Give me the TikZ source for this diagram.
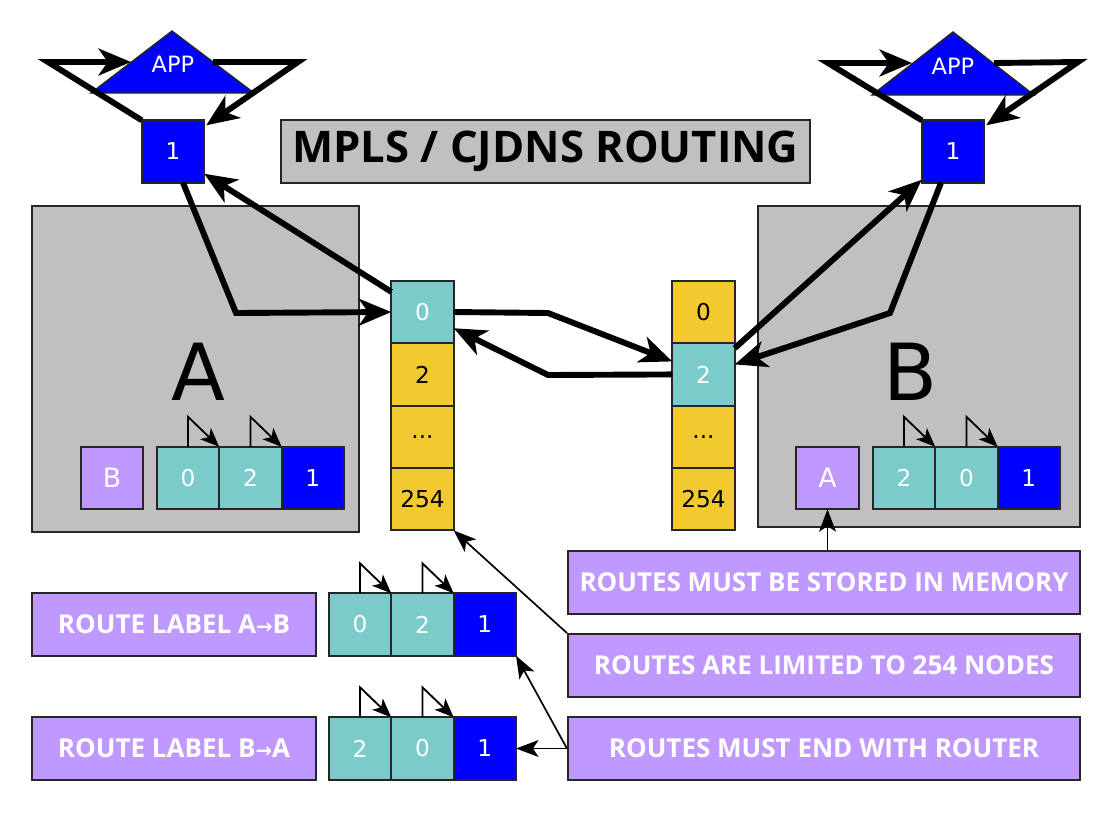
\documentclass[tikz,border=0pt]{standalone}
\usepackage{fontspec}
\setmainfont{DejaVu Sans}
\newfontfamily\labelfont{Open Sans}
\usetikzlibrary{arrows.meta,positioning,calc}

\definecolor{panelgray}{HTML}{C0C0C0}
\definecolor{hopteal}{HTML}{7ACBC9}
\definecolor{slotyellow}{HTML}{F2CA30}
\definecolor{routerblue}{HTML}{0000FF}
\definecolor{notepurple}{HTML}{BF99FF}

\tikzset{
    panel/.style={
        rectangle,                % caja gris de fondo
        draw=black!85,
        fill=panelgray,
        line width=1.4pt,
        inner sep=0pt
    },
    hopcell/.style={
        rectangle,                % casilla de una etiqueta de ruta
        draw=black!85,
        fill=#1,
        line width=1.4pt,
        minimum width=1.56cm,
        minimum height=1.56cm,
        inner sep=0pt,
        outer sep=0pt,
        text=white,
        font=\fontsize{16.5}{18}\selectfont
    },
    hopcell/.default=hopteal,
    slotcell/.style={
        hopcell=slotyellow,       % casilla de la tabla de interfaces
        text=black
    },
    notebox/.style={
        rectangle,                % caja de nota morada
        draw=black!85,
        fill=notepurple,
        line width=1.4pt,
        minimum width=#1,
        minimum height=1.575cm,
        text=white,
        font=\labelfont\bfseries\fontsize{18.5}{20}\selectfont
    },
    bigarrow/.style={
        line width=4.2pt,         % flechas gruesas del recorrido
        -{Stealth[length=23pt,width=19pt,inset=6.5pt]}
    },
    thinarrow/.style={
        line width=1.2pt,         % flechas finas de las notas
        -{Stealth[length=16pt,width=12pt,inset=4pt]}
    },
    hoparrow/.style={
        line width=1.3pt,         % flechita de salto entre casillas
        -{Stealth[length=13.5pt,width=11pt,inset=3.5pt]}
    }
}

\begin{document}
\begin{tikzpicture}[x=0.025cm, y=-0.025cm]
    \useasboundingbox (0,0) rectangle (1112,812);

    % cajas de los nodos A y B
    \node[panel, minimum width=8.175cm, minimum height=8.15cm] (boxA) at (195.5,369) {};
    \node[panel, minimum width=8.05cm, minimum height=8.025cm] (boxB) at (919,366.5) {};
    \node[font=\fontsize{56}{64}\selectfont, inner sep=0pt] (bigA) at (198,372) {A};
    \node[font=\fontsize{56}{64}\selectfont, inner sep=0pt] (bigB) at (911,372) {B};

    % titulo
    \node[panel, minimum width=13.225cm, minimum height=1.575cm,
          font=\labelfont\bfseries\fontsize{31}{34}\selectfont] (title) at (545.5,151.5) {MPLS / CJDNS ROUTING};

    % aplicaciones y routers
    \draw[fill=routerblue, draw=black!85, line width=1pt] (172,31) -- (254,93) -- (91,93) -- cycle;
    \node[text=white, font=\fontsize{16}{18}\selectfont] (appA) at (173,64) {APP};
    \draw[fill=routerblue, draw=black!85, line width=1pt] (953,32) -- (1034,95) -- (872,95) -- cycle;
    \node[text=white, font=\fontsize{16}{18}\selectfont] (appB) at (953,66) {APP};
    \node[hopcell=routerblue] (rA) at (173,151.5) {1};
    \node[hopcell=routerblue] (rB) at (953,151.5) {1};

    \coordinate (appAw) at (48,62);
    \coordinate (appAin) at (131,62);
    \coordinate (appAout) at (213,62);
    \coordinate (appAe) at (298,62);
    \coordinate (appBw) at (828,63);
    \coordinate (appBin) at (912,63);
    \coordinate (appBout) at (994,63);
    \coordinate (appBe) at (1078,62);

    % tablas de interfaces
    \node[hopcell] (c0L) at (422.5,312) {0};
    \node[slotcell, below=0pt of c0L] (c2L) {2};
    \node[slotcell, below=0pt of c2L] (cdL) {...};
    \node[slotcell, below=0pt of cdL] (c254L) {254};
    \node[slotcell] (c0R) at (703.5,312) {0};
    \node[hopcell, below=0pt of c0R] (c2R) {2};
    \node[slotcell, below=0pt of c2R] (cdR) {...};
    \node[slotcell, below=0pt of cdR] (c254R) {254};

    % etiquetas guardadas en A y en B
    \node[hopcell=notepurple, font=\fontsize{19}{21}\selectfont] (bA) at (112,478) {B};
    \node[hopcell] (aA0) at (188,478) {0};
    \node[hopcell, right=0pt of aA0] (aA2) {2};
    \node[hopcell=routerblue, right=0pt of aA2] (aA1) {1};
    \node[hopcell=notepurple, font=\fontsize{19}{21}\selectfont] (aB) at (827.5,478) {A};
    \node[hopcell] (bB2) at (904,478) {2};
    \node[hopcell, right=0pt of bB2] (bB0) {0};
    \node[hopcell=routerblue, right=0pt of bB0] (bB1) {1};

    % etiquetas de ruta
    \node[notebox=7.1cm] (labAB) at (174,624.5) {ROUTE LABEL A{\fontspec{DejaVu Sans}\bfseries\fontsize{14}{16}\selectfont→}B};
    \node[hopcell] (pAB0) at (360,624.5) {0};
    \node[hopcell, right=0pt of pAB0] (pAB2) {2};
    \node[hopcell=routerblue, right=0pt of pAB2] (pAB1) {1};
    \node[notebox=7.1cm] (labBA) at (174,748.5) {ROUTE LABEL B{\fontspec{DejaVu Sans}\bfseries\fontsize{14}{16}\selectfont→}A};
    \node[hopcell] (pBA2) at (360,748.5) {2};
    \node[hopcell, right=0pt of pBA2] (pBA0) {0};
    \node[hopcell=routerblue, right=0pt of pBA0] (pBA1) {1};

    % notas
    \node[notebox=12.8cm] (memo) at (824,582.5) {ROUTES MUST BE STORED IN MEMORY};
    \node[notebox=12.8cm] (limit) at (824,665.5) {ROUTES ARE LIMITED TO 254 NODES};
    \node[notebox=12.8cm] (endr) at (824,748.5) {ROUTES MUST END WITH ROUTER};

    % bucles de la aplicacion
    \draw[bigarrow] (rA.north west) -- (appAw) -- (appAin);
    \draw[bigarrow] (appAout) -- (appAe) -- ($(rA.north east)+(2,5)$);
    \draw[bigarrow] (rB.north west) -- (appBw) -- (appBin);
    \draw[bigarrow] (appBout) -- (appBe) -- ($(rB.north east)+(2,5)$);

    % recorrido del paquete
    \draw[bigarrow] ($(rA.south)+(10,0)$) -- (236,313) -- (c0L.west);
    \draw[bigarrow] ($(c0L.north west)+(0,11)$) -- ($(rA.south east)+(0,-9)$);
    \draw[bigarrow] (c0L.east) -- (548,313) -- ($(c2R.west)+(0,-13)$);
    \draw[bigarrow] (c2R.west) -- (548,375) -- ($(c0L.south east)+(0,-15)$);
    \draw[bigarrow] ($(c2R.north east)+(0,5)$) -- ($(rB.south west)+(0,-3)$);
    \draw[bigarrow] ($(rB.south)+(-12,0)$) -- (890,313) -- ($(c2R.east)+(0,-10)$);

    % saltos dentro de cada etiqueta
    \foreach \cell in {aA0,aA2,bB2,bB0,pAB0,pAB2,pBA2,pBA0}
        \draw[hoparrow] (\cell.north) -- ++(0,-30) -- (\cell.north east);

    % flechas de las notas
    \draw[thinarrow] (memo.north -| aB) -- (aB.south);
    \draw[thinarrow] (limit.north west) -- (c254L.south east);
    \draw[thinarrow] (endr.west) -- (pAB1.south east);
    \draw[thinarrow] (endr.west) -- (pBA1.east);
\end{tikzpicture}
\end{document}
